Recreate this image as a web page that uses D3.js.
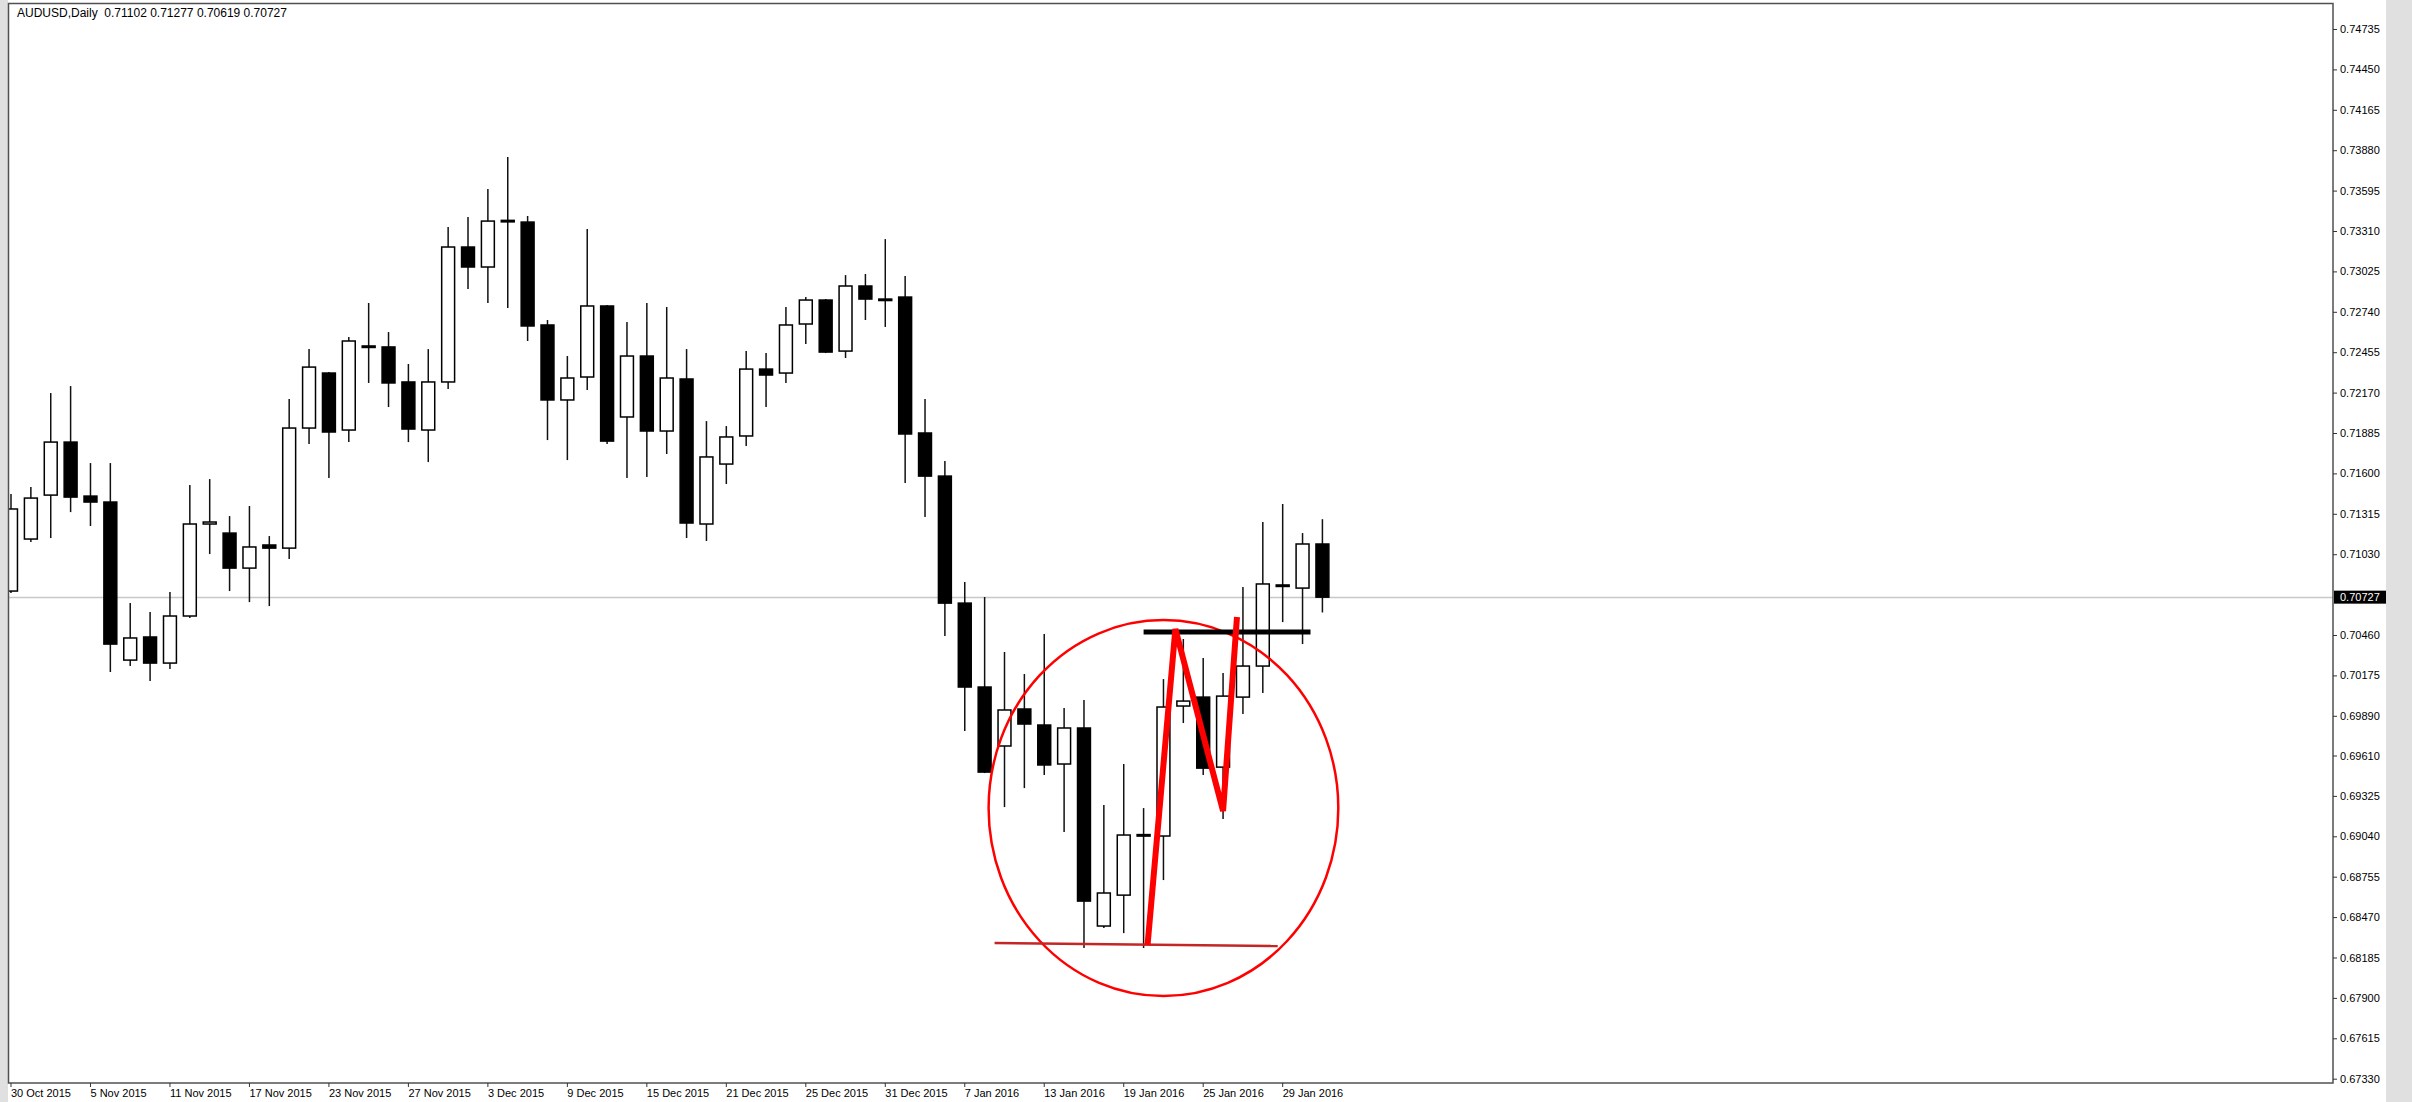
<!DOCTYPE html>
<html>
<head>
<script src="https://d3js.org/d3.v7.min.js"></script>
<style>
  body { margin: 0; background: #fff; }
  svg { display: block; font-family: 'Liberation Sans', Arial, sans-serif; }
  .axis text { font-size: 11px; fill: #000; }
  .axis line { stroke: #333; }
  .axis path { display: none; }
</style>
</head>
<body>
<svg id="chart" width="2412" height="1102"></svg>
<script>
// AUDUSD daily candles, 30 Oct 2015 .. 2 Feb 2016
const symbol = 'AUDUSD,Daily';

const dates = [
  '2015-10-30',
  '2015-11-02', '2015-11-03', '2015-11-04', '2015-11-05', '2015-11-06',
  '2015-11-09', '2015-11-10', '2015-11-11', '2015-11-12', '2015-11-13',
  '2015-11-16', '2015-11-17', '2015-11-18', '2015-11-19', '2015-11-20',
  '2015-11-23', '2015-11-24', '2015-11-25', '2015-11-26', '2015-11-27',
  '2015-11-30', '2015-12-01', '2015-12-02', '2015-12-03', '2015-12-04',
  '2015-12-07', '2015-12-08', '2015-12-09', '2015-12-10', '2015-12-11',
  '2015-12-14', '2015-12-15', '2015-12-16', '2015-12-17', '2015-12-18',
  '2015-12-21', '2015-12-22', '2015-12-23', '2015-12-24', '2015-12-25',
  '2015-12-28', '2015-12-29', '2015-12-30', '2015-12-31',
  '2016-01-04', '2016-01-05', '2016-01-06', '2016-01-07', '2016-01-08',
  '2016-01-11', '2016-01-12', '2016-01-13', '2016-01-14', '2016-01-15',
  '2016-01-18', '2016-01-19', '2016-01-20', '2016-01-21', '2016-01-22',
  '2016-01-25', '2016-01-26', '2016-01-27', '2016-01-28', '2016-01-29',
  '2016-02-01', '2016-02-02'
];

const open = [
  0.70770, 0.71137, 0.71447, 0.71821, 0.71440, 0.71398, 0.70283, 0.70446, 0.70262, 0.70594,
  0.71243, 0.71179, 0.70932, 0.71095, 0.71073, 0.71920, 0.72308, 0.71906, 0.72499, 0.72492,
  0.72245, 0.71906, 0.72245, 0.73197, 0.73056, 0.73380, 0.73373, 0.72647, 0.72118, 0.72280,
  0.72781, 0.71998, 0.72428, 0.71899, 0.72266, 0.71243, 0.71666, 0.71864, 0.72336, 0.72308,
  0.72654, 0.72823, 0.72463, 0.72922, 0.72830, 0.72844, 0.71885, 0.71581, 0.70685, 0.70093,
  0.69677, 0.69938, 0.69825, 0.69550, 0.69804, 0.68407, 0.68625, 0.69049, 0.69042, 0.69959,
  0.70022, 0.69528, 0.70022, 0.70241, 0.70813, 0.70791, 0.71102
];
const high = [
  0.71454, 0.71504, 0.72167, 0.72216, 0.71673, 0.71673, 0.70685, 0.70622, 0.70763, 0.71518,
  0.71560, 0.71299, 0.71370, 0.71158, 0.72125, 0.72477, 0.72315, 0.72562, 0.72802, 0.72597,
  0.72372, 0.72477, 0.73338, 0.73409, 0.73606, 0.73832, 0.73416, 0.72682, 0.72428, 0.73324,
  0.72788, 0.72668, 0.72802, 0.72774, 0.72477, 0.71969, 0.71934, 0.72463, 0.72449, 0.72774,
  0.72844, 0.72830, 0.72999, 0.73007, 0.73253, 0.72992, 0.72125, 0.71687, 0.70834, 0.70728,
  0.70340, 0.70185, 0.70467, 0.69945, 0.70001, 0.69260, 0.69550, 0.69239, 0.70149, 0.70432,
  0.70297, 0.70192, 0.70798, 0.71257, 0.71384, 0.71179, 0.71277
];
const low = [
  0.70756, 0.71116, 0.71144, 0.71327, 0.71229, 0.70199, 0.70241, 0.70135, 0.70220, 0.70580,
  0.71031, 0.70770, 0.70692, 0.70664, 0.70996, 0.71807, 0.71567, 0.71821, 0.72238, 0.72068,
  0.71821, 0.71680, 0.72195, 0.72901, 0.72802, 0.72767, 0.72534, 0.71835, 0.71694, 0.72188,
  0.71807, 0.71567, 0.71574, 0.71737, 0.71144, 0.71123, 0.71525, 0.71793, 0.72068, 0.72238,
  0.72513, 0.72449, 0.72414, 0.72682, 0.72633, 0.71532, 0.71292, 0.70453, 0.69782, 0.69486,
  0.69246, 0.69380, 0.69472, 0.69070, 0.68252, 0.68393, 0.68357, 0.68252, 0.68731, 0.69839,
  0.69472, 0.69162, 0.69902, 0.70050, 0.70551, 0.70396, 0.70619
];
const close = [
  0.71349, 0.71426, 0.71821, 0.71433, 0.71398, 0.70396, 0.70439, 0.70262, 0.70594, 0.71243,
  0.71257, 0.70932, 0.71081, 0.71073, 0.71920, 0.72350, 0.71892, 0.72534, 0.72492, 0.72238,
  0.71913, 0.72245, 0.73197, 0.73056, 0.73380, 0.73385, 0.72640, 0.72118, 0.72273, 0.72781,
  0.71828, 0.72428, 0.71899, 0.72273, 0.71250, 0.71716, 0.71857, 0.72336, 0.72294, 0.72647,
  0.72823, 0.72456, 0.72922, 0.72830, 0.72826, 0.71878, 0.71581, 0.70685, 0.70093, 0.69493,
  0.69931, 0.69832, 0.69543, 0.69804, 0.68583, 0.68640, 0.69049, 0.69052, 0.69952, 0.69994,
  0.69521, 0.70029, 0.70241, 0.70820, 0.70810, 0.71102, 0.70727
];

// right scale labels (0.70745 is hidden under the current price tag)
const priceTicks = [
  0.74735, 0.74450, 0.74165, 0.73880, 0.73595, 0.73310, 0.73025, 0.72740, 0.72455,
  0.72170, 0.71885, 0.71600, 0.71315, 0.71030, 0.70460, 0.70175, 0.69890, 0.69610,
  0.69325, 0.69040, 0.68755, 0.68470, 0.68185, 0.67900, 0.67615, 0.67330
];
const dateTicks = [
  '2015-10-30', '2015-11-05', '2015-11-11', '2015-11-17', '2015-11-23', '2015-11-27',
  '2015-12-03', '2015-12-09', '2015-12-15', '2015-12-21', '2015-12-25', '2015-12-31',
  '2016-01-07', '2016-01-13', '2016-01-19', '2016-01-25', '2016-01-29'
];

// hand drawn marks: [bar index, price]
const zigzag = [[57.2, 0.68273], [58.6, 0.70502], [61.0, 0.69218], [61.7, 0.70587]];
const supportLine = [[49.5, 0.68287], [63.75, 0.68266]];
const neckLine = [[57.0, 0.70481], [65.4, 0.70481]];
const circle = { cx: 58.0, cy: 0.69239, rBars: 8.8, rPrice: 0.01326 };

const candles = dates.map((d, i) => ({ date: d, o: open[i], h: high[i], l: low[i], c: close[i] }));
const last = candles[candles.length - 1];

const svg = d3.select('svg#chart');
const width = +svg.attr('width');
const height = +svg.attr('height');
const plot = { left: 9, top: 4, right: 2333, bottom: 1083 };
const fmt = d3.format('.5f');

const step = 19.87;
const x = d3.scaleBand()
  .domain(dates)
  .range([11 - step / 2, 11 - step / 2 + step * dates.length])
  .paddingInner(0.35)
  .paddingOuter(0.175);
const y = d3.scaleLinear().domain([0.74735, 0.67330]).range([29, 1078.7]);
const xi = (idx) => x(dates[0]) + x.bandwidth() / 2 + idx * x.step();
const xc = (d) => x(d) + x.bandwidth() / 2;

// background strips
svg.append('rect').attr('x', 0).attr('y', 0).attr('width', 8).attr('height', height).attr('fill', '#e0e0e0');
svg.append('rect').attr('x', 2386).attr('y', 0).attr('width', width - 2386).attr('height', height).attr('fill', '#e0e0e0');

svg.append('clipPath').attr('id', 'clip').append('rect')
  .attr('x', plot.left).attr('y', plot.top)
  .attr('width', plot.right - plot.left).attr('height', plot.bottom - plot.top);

const g = svg.append('g').attr('clip-path', 'url(#clip)');

// current price line
g.append('line')
  .attr('x1', plot.left).attr('x2', plot.right)
  .attr('y1', Math.round(y(last.c)) + 0.5).attr('y2', Math.round(y(last.c)) + 0.5)
  .attr('stroke', '#c8c8c8').attr('stroke-width', 1.5);

// wicks
g.selectAll('line.wick').data(candles).join('line')
  .attr('class', 'wick')
  .attr('x1', (d) => xc(d.date)).attr('x2', (d) => xc(d.date))
  .attr('y1', (d) => y(d.h)).attr('y2', (d) => y(d.l))
  .attr('stroke', '#111').attr('stroke-width', 1.5);

// bodies
g.selectAll('rect.body').data(candles).join('rect')
  .attr('class', 'body')
  .attr('x', (d) => x(d.date))
  .attr('width', x.bandwidth())
  .attr('y', (d) => y(Math.max(d.o, d.c)))
  .attr('height', (d) => Math.max(1.5, Math.abs(y(d.o) - y(d.c))))
  .attr('fill', (d) => (d.c >= d.o ? '#fff' : '#000'))
  .attr('stroke', '#000').attr('stroke-width', 1.5);

// annotations
const line = d3.line().x((p) => xi(p[0])).y((p) => y(p[1]));
g.append('ellipse')
  .attr('cx', xi(circle.cx)).attr('cy', y(circle.cy))
  .attr('rx', circle.rBars * x.step())
  .attr('ry', y(circle.cy) - y(circle.cy + circle.rPrice))
  .attr('fill', 'none').attr('stroke', '#ff0000').attr('stroke-width', 2.5);
g.append('path').datum(supportLine).attr('d', line)
  .attr('fill', 'none').attr('stroke', '#c42525').attr('stroke-width', 2.5);
g.append('path').datum(neckLine).attr('d', line)
  .attr('fill', 'none').attr('stroke', '#000').attr('stroke-width', 5);
g.append('path').datum(zigzag).attr('d', line)
  .attr('fill', 'none').attr('stroke', '#ff0000').attr('stroke-width', 6)
  .attr('stroke-linejoin', 'miter');

// frame
svg.append('rect')
  .attr('x', plot.left - 0.5).attr('y', plot.top - 0.5)
  .attr('width', plot.right - plot.left + 0.5).attr('height', plot.bottom - plot.top + 0.5)
  .attr('fill', 'none').attr('stroke', '#505050').attr('stroke-width', 1.5);

// price axis
svg.append('g')
  .attr('class', 'axis')
  .attr('transform', `translate(${plot.right},0)`)
  .call(d3.axisRight(y).tickValues(priceTicks).tickFormat(fmt).tickSize(4).tickPadding(3));

// current price tag
const tagY = y(last.c);
svg.append('rect')
  .attr('x', plot.right + 1).attr('y', tagY - 6.5)
  .attr('width', 2386 - plot.right - 1).attr('height', 13)
  .attr('fill', '#000');
svg.append('text')
  .attr('x', plot.right + 7).attr('y', tagY).attr('dy', '0.35em')
  .attr('fill', '#fff').style('font-size', '11px')
  .text(fmt(last.c));

// date axis
const parse = d3.timeParse('%Y-%m-%d');
const dateFmt = d3.timeFormat('%-d %b %Y');
const xAxis = svg.append('g')
  .attr('class', 'axis')
  .attr('transform', `translate(0,${plot.bottom})`)
  .call(d3.axisBottom(x).tickValues(dateTicks).tickFormat((d) => dateFmt(parse(d))).tickSize(4).tickPadding(2));
xAxis.selectAll('.tick line').attr('transform', `translate(${-x.bandwidth() / 2 + x.bandwidth() / 2},0)`);
xAxis.selectAll('.tick text').attr('text-anchor', 'start').attr('x', 0);

// header
svg.append('text')
  .attr('x', 17).attr('y', 17)
  .style('font-size', '12px').style('white-space', 'pre')
  .attr('fill', '#000')
  .text(`${symbol}  ${fmt(last.o)} ${fmt(last.h)} ${fmt(last.l)} ${fmt(last.c)}`);
</script>
</body>
</html>
